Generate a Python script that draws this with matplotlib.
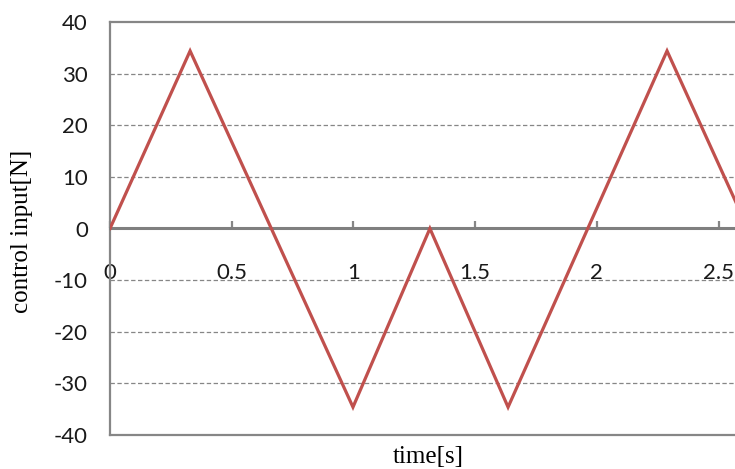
import matplotlib
matplotlib.use("Agg")
import matplotlib.pyplot as plt
import numpy as np

# time [s] and control input [N]
time_s = [0.0, 0.329, 0.998, 1.314, 1.635, 2.288, 2.62]
control_n = [0.0, 34.4, -34.6, 0.0, -34.6, 34.4, 0.0]

x_ticks = [0, 0.5, 1, 1.5, 2, 2.5]
x_tick_labels = ["0", "0.5", "1", "1.5", "2", "2.5"]
y_ticks = [-40, -30, -20, -10, 0, 10, 20, 30, 40]

GRAY = "#868686"
RED = "#C0504D"

fig = plt.figure(figsize=(7.35, 4.69), dpi=100)
# axes runs past the right edge of the figure, as in the cropped original
ax = fig.add_axes([110/735, 1-435/469, (743-110)/735, (435-22)/469])

ax.plot(time_s, control_n, color=RED, lw=2.3, zorder=5, solid_joinstyle="miter")

ax.set_xlim(0, 2.6)
ax.set_ylim(-40, 40)

# dashed horizontal grid, solid frame lines at +-40
for y in y_ticks:
    if y in (-40, 40, 0):
        continue
    ax.axhline(y, color=GRAY, lw=0.9, ls=(0, (3.5, 2)), zorder=1)
ax.axhline(-40, color=GRAY, lw=1.6, zorder=2, clip_on=False)

ax.spines["right"].set_visible(False)
ax.spines["top"].set_color(GRAY)
ax.spines["top"].set_linewidth(1.6)
ax.spines["left"].set_color(GRAY)
ax.spines["left"].set_linewidth(1.6)
ax.spines["bottom"].set_position(("data", 0))
ax.spines["bottom"].set_color("#7f7f7f")
ax.spines["bottom"].set_linewidth(2.2)

ax.set_yticks(y_ticks)
ax.set_yticklabels([str(v) for v in y_ticks])
ax.set_xticks(x_ticks)
ax.set_xticklabels(x_tick_labels)

tickfont = "Lato"
ax.tick_params(axis="y", length=0, pad=16, labelsize=16)
ax.tick_params(axis="x", direction="in", length=5, width=1.6, color=GRAY,
               pad=25, labelsize=16)
for lab in ax.get_xticklabels() + ax.get_yticklabels():
    lab.set_family(tickfont)
    lab.set_color("#1a1a1a")

fig.text(428/735, 1-457/469, "time[s]", family="Liberation Serif",
         fontsize=18, ha="center", va="center")
fig.text(22/735, 1-231/469, "control input[N]", family="Liberation Serif",
         fontsize=18, ha="center", va="center", rotation=90)

fig.savefig("out.png", dpi=100)
